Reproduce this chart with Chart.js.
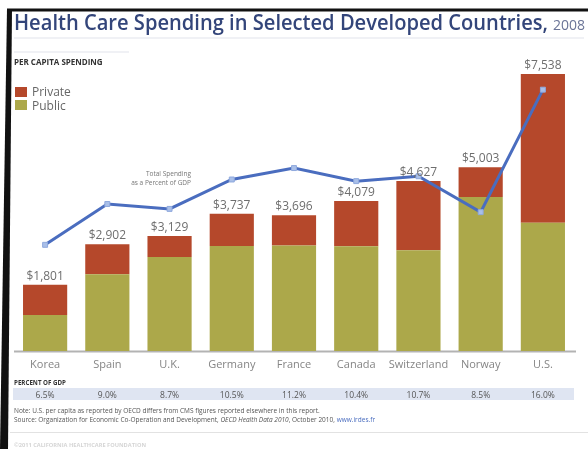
<!DOCTYPE html>
<html>
<head>
<meta charset="utf-8">
<script src="https://cdn.jsdelivr.net/npm/chart.js@4.4.1/dist/chart.umd.min.js"></script>
<style>
  html, body { margin: 0; padding: 0; background: #fff; }
  #wrap { position: relative; width: 588px; height: 449px; }
</style>
</head>
<body>
<div id="wrap"><canvas id="spendChart" width="588" height="449"></canvas></div>
<script>
// Per capita health spending, 2008 (US$)
const countries = ["Korea", "Spain", "U.K.", "Germany", "France", "Canada", "Switzerland", "Norway", "U.S."];
const totalSpending = [1801, 2902, 3129, 3737, 3696, 4079, 4627, 5003, 7538];
const publicSpending = [980, 2090, 2560, 2860, 2870, 2850, 2740, 4190, 3490];
const privateSpending = totalSpending.map((t, i) => t - publicSpending[i]);
const gdpPercent = [6.5, 9.0, 8.7, 10.5, 11.2, 10.4, 10.7, 8.5, 16.0];

const COLOR_PRIVATE = "#b5482b";
const COLOR_PUBLIC = "#aca84a";
const COLOR_LINE = "#4a6dbf";
const BASE_FONT = "'Open Sans', 'DejaVu Sans', sans-serif";

const fmtDollars = v => "$" + v.toLocaleString("en-US");

// draws a row of differently styled text runs, squeezed to a given width
function drawRuns(ctx, runs, x, y, width) {
    let natural = 0;
    runs.forEach(r => { ctx.font = r.font; natural += ctx.measureText(r.text).width; });
    const k = Math.min(1, width / natural);
    ctx.save();
    ctx.translate(x, y);
    ctx.scale(k, 1);
    let cx = 0;
    runs.forEach(r => {
        ctx.font = r.font;
        ctx.fillStyle = r.color;
        ctx.fillText(r.text, cx, 0);
        cx += ctx.measureText(r.text).width;
    });
    ctx.restore();
}

// Frame, title block, legend and the table under the bars
const decorPlugin = {
    id: "decor",
    beforeDraw(chart) {
        const ctx = chart.ctx;
        ctx.save();
        ctx.fillStyle = "#fff";
        ctx.fillRect(0, 0, chart.width, chart.height);

        // black frame edges
        ctx.fillStyle = "#111";
        ctx.fillRect(7, 8.5, 581, 3);
        ctx.beginPath();
        ctx.moveTo(7, 9); ctx.lineTo(12, 9); ctx.lineTo(8, 449); ctx.lineTo(0, 449);
        ctx.closePath();
        ctx.fill();

        // faint rules below title
        ctx.fillStyle = "#f0f1f5";
        ctx.fillRect(14, 37, 570, 2);
        ctx.fillRect(14, 51, 115, 2);

        // percent-of-GDP band
        ctx.fillStyle = "#dfe5f2";
        ctx.fillRect(13, 388, 561, 12);

        // baseline under bars
        const area = chart.chartArea;
        ctx.strokeStyle = "#b3b3b3";
        ctx.lineWidth = 2;
        ctx.beginPath();
        ctx.moveTo(14, area.bottom + 0.5);
        ctx.lineTo(576, area.bottom + 0.5);
        ctx.stroke();

        // bottom rule
        ctx.strokeStyle = "#e2e2e2";
        ctx.lineWidth = 1;
        ctx.beginPath();
        ctx.moveTo(10, 432.5);
        ctx.lineTo(588, 432.5);
        ctx.stroke();
        ctx.restore();
    },
    afterDraw(chart) {
        const ctx = chart.ctx;
        const x = chart.scales.x;
        ctx.save();
        ctx.textBaseline = "alphabetic";

        // title
        ctx.fillStyle = "#33457a";
        ctx.font = "600 22px " + BASE_FONT;
        ctx.textAlign = "left";
        ctx.fillText("Health Care Spending in Selected Developed Countries,", 14, 30, 534);
        ctx.fillStyle = "#6a7497";
        ctx.font = "14px " + BASE_FONT;
        ctx.fillText("2008", 553, 30, 37);

        ctx.fillStyle = "#333";
        ctx.font = "bold 8px " + BASE_FONT;
        ctx.fillText("PER CAPITA SPENDING", 14, 65, 100);

        // legend
        ctx.fillStyle = COLOR_PRIVATE;
        ctx.fillRect(15, 87, 12, 10);
        ctx.fillStyle = COLOR_PUBLIC;
        ctx.fillRect(15, 100, 12, 10);
        ctx.fillStyle = "#666";
        ctx.font = "12px " + BASE_FONT;
        ctx.fillText("Private", 32, 96);
        ctx.fillText("Public", 32, 110);

        // line annotation
        ctx.textAlign = "right";
        ctx.fillStyle = "#777";
        ctx.font = "6.5px " + BASE_FONT;
        ctx.fillText("Total Spending", 191, 176);
        ctx.fillText("as a Percent of GDP", 191, 185);

        // totals above the bars
        const topMeta = chart.getDatasetMeta(1);
        ctx.textAlign = "center";
        ctx.fillStyle = "#6e6e6e";
        ctx.font = "12px " + BASE_FONT;
        topMeta.data.forEach((bar, i) => {
            ctx.fillText(fmtDollars(totalSpending[i]), bar.x, bar.y - 5, 40);
        });

        // country names
        ctx.fillStyle = "#858585";
        ctx.font = "11px " + BASE_FONT;
        countries.forEach((c, i) => {
            ctx.fillText(c, x.getPixelForValue(i), 368, 60);
        });

        // percent of GDP row
        ctx.textAlign = "left";
        ctx.fillStyle = "#333";
        ctx.font = "bold 7px " + BASE_FONT;
        ctx.fillText("PERCENT OF GDP", 14, 385, 52);
        ctx.textAlign = "center";
        ctx.fillStyle = "#555";
        ctx.font = "8.5px " + BASE_FONT;
        gdpPercent.forEach((p, i) => {
            ctx.fillText(p.toFixed(1) + "%", x.getPixelForValue(i), 397.5);
        });

        // notes
        ctx.textAlign = "left";
        const f = "6.5px " + BASE_FONT;
        drawRuns(ctx, [
            { text: "Note: U.S. per capita as reported by OECD differs from CMS figures reported elsewhere in this report.", font: f, color: "#555" }
        ], 14, 413, 395);
        drawRuns(ctx, [
            { text: "Source: Organization for Economic Co-Operation and Development, ", font: f, color: "#555" },
            { text: "OECD Health Data 2010", font: "italic " + f, color: "#555" },
            { text: ", October 2010, ", font: f, color: "#555" },
            { text: "www.irdes.fr", font: f, color: "#4a6dbf" }
        ], 14, 422, 378);

        ctx.fillStyle = "#d5d5d5";
        ctx.font = "bold 6px " + BASE_FONT;
        ctx.fillText("©2011 CALIFORNIA HEALTHCARE FOUNDATION", 14, 447, 132);
        ctx.restore();
    }
};

const ctx = document.getElementById("spendChart").getContext("2d");
new Chart(ctx, {
    data: {
        labels: countries,
        datasets: [
            {
                type: "bar",
                label: "Public",
                data: publicSpending,
                backgroundColor: COLOR_PUBLIC,
                yAxisID: "y",
                order: 1,
                categoryPercentage: 1,
                barPercentage: 0.71
            },
            {
                type: "bar",
                label: "Private",
                data: privateSpending,
                backgroundColor: COLOR_PRIVATE,
                yAxisID: "y",
                order: 1,
                categoryPercentage: 1,
                barPercentage: 0.71
            },
            {
                type: "line",
                label: "Total Spending as a Percent of GDP",
                data: gdpPercent,
                yAxisID: "y1",
                order: 0,
                borderColor: COLOR_LINE,
                borderWidth: 3,
                pointStyle: "rect",
                pointRadius: 3.5,
                pointBackgroundColor: "#a9bfe8",
                pointBorderColor: "#8fa9dd",
                pointBorderWidth: 1,
                tension: 0
            }
        ]
    },
    options: {
        responsive: false,
        animation: false,
        layout: { padding: { left: 14, right: 14, top: 57, bottom: 98 } },
        scales: {
            x: { stacked: true, display: false, offset: true },
            y: { stacked: true, display: false, min: 0, max: 8000 },
            y1: { display: false, min: 0, max: 18 }
        },
        plugins: {
            legend: { display: false },
            tooltip: { enabled: false }
        }
    },
    plugins: [decorPlugin]
});
</script>
</body>
</html>
